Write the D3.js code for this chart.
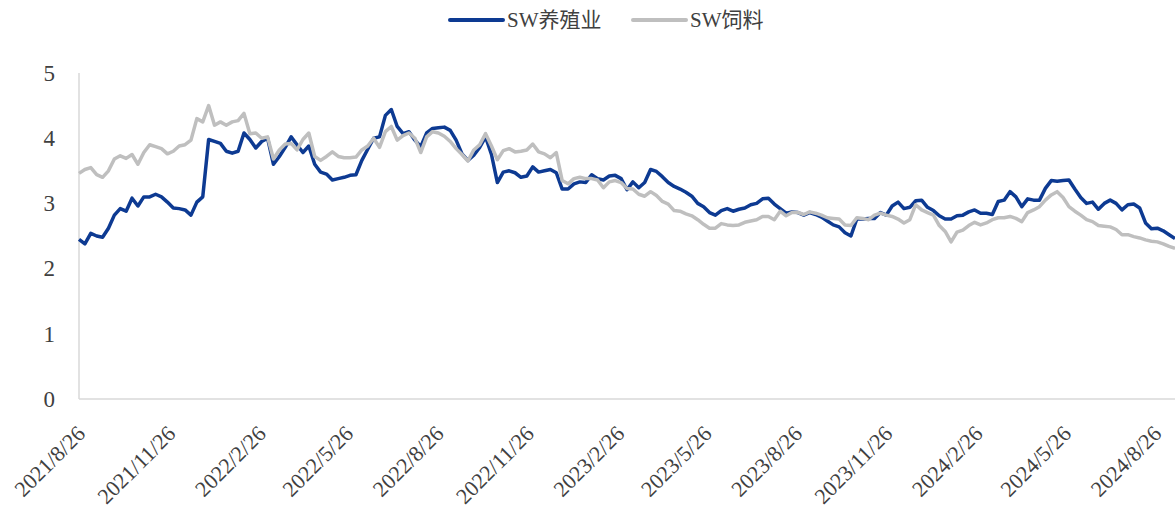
<!DOCTYPE html>
<html>
<head>
<meta charset="utf-8">
<script src="https://cdn.jsdelivr.net/npm/d3@7/dist/d3.min.js"></script>
<style>
  html, body { margin: 0; padding: 0; background: #ffffff; }
  svg { display: block; }
  text { font-family: "Liberation Serif", "Noto Sans CJK SC", serif; fill: #404040; }
</style>
</head>
<body>
<svg id="chart" width="1175" height="508"></svg>
<script>
// Series names
const seriesNames = ["SW养殖业", "SW饲料"];

// Sampling: one observation every 6 calendar days starting on 2021/8/26
const startDate = "2021/8/26";
const stepDays = 6;

// Axis tick labels
const xTickLabels = ["2021/8/26", "2021/11/26", "2022/2/26", "2022/5/26", "2022/8/26",
  "2022/11/26", "2023/2/26", "2023/5/26", "2023/8/26", "2023/11/26",
  "2024/2/26", "2024/5/26", "2024/8/26"];
const yTicks = [0, 1, 2, 3, 4, 5];

// SW养殖业
const breedingValues = [
  2.45, 2.38, 2.54, 2.50, 2.48, 2.62, 2.82, 2.92, 2.88, 3.08,
  2.96, 3.10, 3.10, 3.14, 3.10, 3.02, 2.93, 2.92, 2.90, 2.82,
  3.02, 3.10, 3.98, 3.95, 3.92, 3.80, 3.77, 3.80, 4.08, 3.98,
  3.85, 3.95, 4.00, 3.60, 3.72, 3.86, 4.02, 3.90, 3.78, 3.88,
  3.60, 3.48, 3.45, 3.36, 3.38, 3.40, 3.43, 3.44, 3.66, 3.83,
  4.00, 4.02, 4.35, 4.44, 4.18, 4.07, 4.10, 3.97, 3.87, 4.08,
  4.15, 4.16, 4.17, 4.12, 3.97, 3.76, 3.66, 3.74, 3.86, 4.02,
  3.75, 3.32, 3.48, 3.50, 3.47, 3.40, 3.42, 3.56, 3.48, 3.50,
  3.52, 3.47, 3.22, 3.22, 3.30, 3.33, 3.32, 3.44, 3.38, 3.36,
  3.42, 3.43, 3.38, 3.21, 3.33, 3.24, 3.32, 3.52, 3.49, 3.41,
  3.32, 3.26, 3.22, 3.17, 3.11, 3.00, 2.95, 2.86, 2.82, 2.89,
  2.92, 2.88, 2.91, 2.93, 2.98, 3.00, 3.07, 3.08, 2.99, 2.92,
  2.85, 2.87, 2.86, 2.82, 2.86, 2.83, 2.79, 2.73, 2.67, 2.64,
  2.55, 2.50, 2.76, 2.76, 2.77, 2.77, 2.86, 2.82, 2.96, 3.02,
  2.92, 2.94, 3.04, 3.05, 2.94, 2.89, 2.81, 2.76, 2.76, 2.81,
  2.82, 2.87, 2.90, 2.85, 2.85, 2.83, 3.03, 3.05, 3.18, 3.10,
  2.95, 3.07, 3.05, 3.05, 3.23, 3.35, 3.34, 3.35, 3.36, 3.22,
  3.09, 3.00, 3.02, 2.91, 3.00, 3.05, 3.00, 2.90, 2.98, 2.99,
  2.93, 2.70, 2.61, 2.62, 2.58, 2.52, 2.46
];

// SW饲料
const feedValues = [
  3.46, 3.52, 3.55, 3.44, 3.40, 3.50, 3.68, 3.73, 3.69, 3.75,
  3.60, 3.78, 3.90, 3.87, 3.84, 3.76, 3.80, 3.88, 3.90, 3.97,
  4.30, 4.25, 4.50, 4.20, 4.25, 4.20, 4.25, 4.27, 4.38, 4.07,
  4.08, 4.00, 4.02, 3.68, 3.82, 3.91, 3.92, 3.82, 3.98, 4.08,
  3.72, 3.66, 3.72, 3.79, 3.72, 3.70, 3.70, 3.71, 3.82, 3.88,
  4.00, 3.86, 4.10, 4.18, 3.97, 4.04, 4.08, 4.00, 3.78, 4.02,
  4.10, 4.08, 4.03, 3.95, 3.84, 3.75, 3.65, 3.82, 3.90, 4.07,
  3.88, 3.67, 3.81, 3.84, 3.79, 3.80, 3.82, 3.91, 3.79, 3.76,
  3.70, 3.78, 3.35, 3.30, 3.38, 3.40, 3.38, 3.38, 3.36, 3.24,
  3.33, 3.35, 3.32, 3.23, 3.22, 3.14, 3.11, 3.18, 3.12, 3.03,
  2.99, 2.89, 2.88, 2.84, 2.81, 2.75, 2.68, 2.62, 2.62, 2.69,
  2.67, 2.66, 2.67, 2.71, 2.73, 2.75, 2.80, 2.80, 2.75, 2.88,
  2.81, 2.86, 2.86, 2.83, 2.87, 2.85, 2.82, 2.78, 2.77, 2.76,
  2.67, 2.66, 2.78, 2.77, 2.75, 2.82, 2.85, 2.82, 2.80, 2.76,
  2.70, 2.75, 2.98, 2.90, 2.86, 2.82, 2.66, 2.57, 2.41, 2.56,
  2.59, 2.66, 2.71, 2.67, 2.70, 2.75, 2.78, 2.78, 2.80, 2.77,
  2.72, 2.86, 2.90, 2.95, 3.05, 3.13, 3.18, 3.09, 2.95, 2.88,
  2.82, 2.75, 2.72, 2.66, 2.65, 2.64, 2.60, 2.52, 2.52, 2.49,
  2.47, 2.44, 2.42, 2.41, 2.38, 2.34, 2.31
];

const colors = ["#0d3a92", "#bfbfbf"];

const parseDate = d3.timeParse("%Y/%m/%d");
const t0 = parseDate(startDate);
const dates = breedingValues.map((_, i) => d3.timeDay.offset(t0, i * stepDays));

const margin = { left: 79, right: 0, top: 73, bottom: 109 };
const W = 1175, H = 508;

const svg = d3.select("#chart");

const x = d3.scaleTime()
  .domain([dates[0], dates[dates.length - 1]])
  .range([margin.left, W - margin.right]);

const y = d3.scaleLinear()
  .domain([0, 5])
  .range([H - margin.bottom, margin.top]);

// Axis lines
svg.append("line")
  .attr("x1", margin.left).attr("x2", margin.left)
  .attr("y1", y(5)).attr("y2", y(0))
  .attr("stroke", "#d9d9d9").attr("stroke-width", 1.5);
svg.append("line")
  .attr("x1", margin.left).attr("x2", W)
  .attr("y1", y(0)).attr("y2", y(0))
  .attr("stroke", "#d9d9d9").attr("stroke-width", 1.5);

// Y axis labels
const yAxis = d3.axisLeft(y).tickValues(yTicks).tickSize(0).tickPadding(24).tickFormat(d3.format("d"));
const gy = svg.append("g").attr("transform", `translate(${margin.left},0)`).call(yAxis);
gy.select(".domain").remove();
gy.selectAll("text")
  .style("font-family", '"Liberation Serif", serif')
  .style("font-size", "23px")
  .attr("fill", "#404040");

// X axis labels, rotated
const xTickDates = xTickLabels.map(parseDate);
const xAxis = d3.axisBottom(x).tickValues(xTickDates).tickSize(0).tickFormat(d3.timeFormat("%Y/%-m/%-d"));
const gx = svg.append("g").attr("transform", `translate(0,${y(0)})`).call(xAxis);
gx.select(".domain").remove();
gx.selectAll("text")
  .style("font-family", '"Liberation Serif", serif')
  .style("font-size", "22px")
  .attr("fill", "#404040")
  .attr("text-anchor", "end")
  .attr("dy", null)
  .attr("y", null)
  .attr("transform", "translate(7,36) rotate(-45)");

// Lines
const line = d3.line()
  .x((d, i) => x(dates[i]))
  .y(d => y(d));

[breedingValues, feedValues].forEach((vals, k) => {
  svg.append("path")
    .datum(vals)
    .attr("fill", "none")
    .attr("stroke", colors[k])
    .attr("stroke-width", 3.5)
    .attr("stroke-linejoin", "round")
    .attr("d", line);
});

// Legend
const legendItems = [
  { name: seriesNames[0], color: colors[0], x: 450 },
  { name: seriesNames[1], color: colors[1], x: 633 }
];
const lg = svg.append("g");
legendItems.forEach(it => {
  lg.append("line")
    .attr("x1", it.x).attr("x2", it.x + 53)
    .attr("y1", 20).attr("y2", 20)
    .attr("stroke", it.color).attr("stroke-width", 4)
    .attr("stroke-linecap", "round");
  lg.append("text")
    .attr("x", it.x + 57).attr("y", 27)
    .style("font-size", "21px")
    .text(it.name);
});
</script>
</body>
</html>
